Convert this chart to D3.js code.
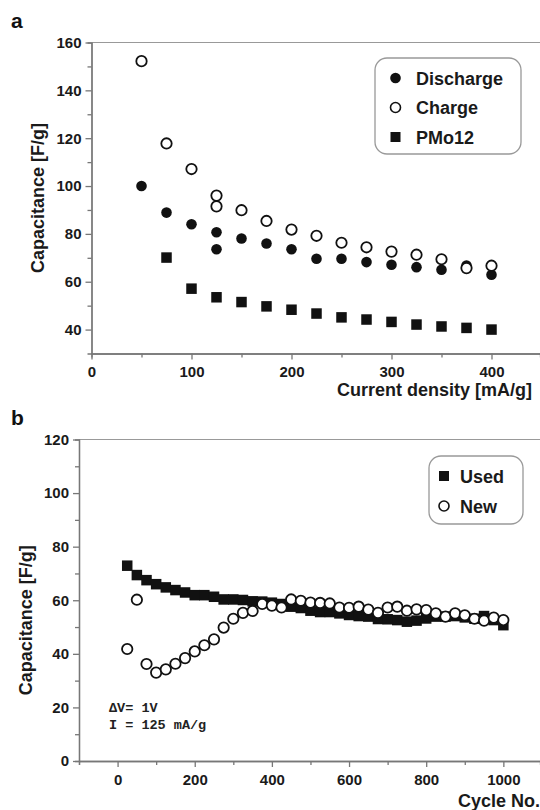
<!DOCTYPE html>
<html>
<head>
<meta charset="utf-8">
<script src="https://cdn.jsdelivr.net/npm/d3@7"></script>
<style>
  body { margin: 0; background: #fff; }
  svg { display: block; font-family: "Liberation Sans", Arial, sans-serif; }
  .tick text { font-weight: bold; font-size: 15px; fill: #1a1a1a; }
  .domain, .tick line { stroke: #777; stroke-width: 1.3; }
</style>
</head>
<body>
<script>
// panel a data
var currentA = [50, 75, 100, 125, 125, 150, 175, 200, 225, 250, 275, 300, 325, 350, 375, 400];
var discharge = [100, 88.9, 84.0, 80.7, 73.6, 78.1, 76.0, 73.6, 69.6, 69.6, 68.2, 67.1, 66.1, 65.0, 66.8, 62.9];
var charge = [152.2, 117.8, 107.1, 96.0, 91.5, 89.9, 85.4, 81.8, 79.2, 76.3, 74.4, 72.6, 71.3, 69.4, 65.7, 66.7];
var currentP = [75, 100, 125, 150, 175, 200, 225, 250, 275, 300, 325, 350, 375, 400];
var pmo12 = [70.1, 57.1, 53.5, 51.5, 49.7, 48.3, 46.7, 45.1, 44.2, 43.2, 42.1, 41.3, 40.7, 40.0];

// panel b data
var cycles = [25, 50, 75, 100, 125, 150, 175, 200, 225, 250, 275, 300, 325, 350, 375, 400, 425, 450, 475, 500,
              525, 550, 575, 600, 625, 650, 675, 700, 725, 750, 775, 800, 825, 850, 875, 900, 925, 950, 975, 1000];
var used = [72.9, 69.4, 67.5, 66.0, 64.8, 63.8, 62.9, 61.9, 61.9, 61.3, 60.3, 60.3, 60.1, 59.6, 59.5, 59.1, 58.6, 57.6, 57.1, 56.1,
            55.6, 55.6, 55.1, 54.5, 54.1, 53.9, 53.0, 52.9, 52.6, 52.0, 52.4, 53.2, 53.9, 53.9, 54.1, 53.6, 53.1, 54.1, 52.6, 50.7];
var fresh = [41.8, 60.2, 36.2, 33.0, 34.2, 36.3, 38.4, 40.9, 43.2, 45.4, 49.8, 53.1, 55.3, 56.0, 58.6, 58.0, 57.3, 60.3, 59.8, 59.1,
             59.0, 58.8, 57.3, 57.2, 57.6, 56.5, 55.3, 57.3, 57.6, 56.1, 56.6, 56.3, 55.1, 53.9, 55.1, 54.4, 53.1, 52.4, 53.5, 52.6];

var ticksAx = [0, 100, 200, 300, 400], minorAx = [50, 150, 250, 350, 450];
var ticksAy = [40, 60, 80, 100, 120, 140, 160], minorAy = [50, 70, 90, 110, 130, 150];
var ticksBx = [0, 200, 400, 600, 800, 1000], minorBx = [-100, 100, 300, 500, 700, 900];
var ticksBy = [0, 20, 40, 60, 80, 100, 120], minorBy = [10, 30, 50, 70, 90, 110];

var svg = d3.select('body').append('svg')
    .attr('width', 540)
    .attr('height', 810);

function panel(o) {
    var x = d3.scaleLinear().domain(o.xd).range([o.left, 540]);
    var y = d3.scaleLinear().domain(o.yd).range([o.bottom, o.top]);
    var g = svg.append('g');

    // top frame line
    g.append('line')
        .attr('x1', o.left).attr('x2', 540)
        .attr('y1', o.top).attr('y2', o.top)
        .attr('stroke', '#999').attr('stroke-width', 1.2);

    g.append('g').attr('transform', 'translate(0,' + o.bottom + ')')
        .call(d3.axisBottom(x).tickValues(o.minorX).tickSize(4).tickFormat(''));
    g.append('g').attr('transform', 'translate(0,' + o.bottom + ')')
        .call(d3.axisBottom(x).tickValues(o.ticksX).tickSize(6).tickPadding(5).tickSizeOuter(0).tickFormat(d3.format('d')))
        .selectAll('text').attr('dy', '0.85em');
    g.append('g').attr('transform', 'translate(' + o.left + ',0)')
        .call(d3.axisLeft(y).tickValues(o.minorY).tickSize(4).tickFormat(''));
    g.append('g').attr('transform', 'translate(' + o.left + ',0)')
        .call(d3.axisLeft(y).tickValues(o.ticksY).tickSize(6).tickPadding(4).tickSizeOuter(0));

    // axis titles
    g.append('text')
        .attr('transform', 'translate(' + o.ytx + ',' + ((o.top + o.bottom) / 2 + o.ytdy) + ') rotate(-90)')
        .attr('text-anchor', 'middle')
        .style('font-weight', 'bold').style('font-size', '18px').attr('fill', '#1a1a1a')
        .text('Capacitance [F/g]');
    g.append('text')
        .attr('x', o.xtx).attr('y', o.xty)
        .attr('text-anchor', 'end')
        .style('font-weight', 'bold').style('font-size', '18px').attr('fill', '#1a1a1a')
        .text(o.xtitle);
    // panel letter
    g.append('text')
        .attr('x', 11).attr('y', o.top - 15)
        .style('font-weight', 'bold').style('font-size', '21px').attr('fill', '#111')
        .text(o.letter);
    return { x: x, y: y, g: g };
}

function circles(p, xs, ys, filled, r) {
    p.g.append('g').selectAll('circle')
        .data(xs)
        .enter().append('circle')
        .attr('cx', function(d) { return p.x(d); })
        .attr('cy', function(d, i) { return p.y(ys[i]); })
        .attr('r', r)
        .attr('fill', filled ? '#111' : '#fff')
        .attr('stroke', '#111')
        .attr('stroke-width', filled ? 0 : 1.8);
}

function squares(p, xs, ys, s) {
    p.g.append('g').selectAll('rect')
        .data(xs)
        .enter().append('rect')
        .attr('x', function(d) { return p.x(d) - s / 2; })
        .attr('y', function(d, i) { return p.y(ys[i]) - s / 2; })
        .attr('width', s).attr('height', s)
        .attr('fill', '#111');
}

// ---------- panel a ----------
var pa = panel({
    xd: [0, 448.5], yd: [30, 160], left: 91.5, top: 42.5, bottom: 353.5,
    ticksX: ticksAx, minorX: minorAx, ticksY: ticksAy, minorY: minorAy,
    ytx: 44, ytdy: 0, xtx: 532, xty: 396, xtitle: 'Current density [mA/g]', letter: 'a'
});
squares(pa, currentP, pmo12, 10.5);
circles(pa, currentA, discharge, true, 5.3);
circles(pa, currentA, charge, false, 5.2);

// legend a
var la = pa.g.append('g');
la.append('rect').attr('x', 375).attr('y', 58).attr('width', 146).attr('height', 96)
    .attr('rx', 12).attr('fill', '#fff').attr('stroke', '#999').attr('stroke-width', 1.3);
var legA = ['Discharge', 'Charge', 'PMo12'];
legA.forEach(function(t, i) {
    var cy = 78 + i * 29.5;
    if (i === 0) la.append('circle').attr('cx', 395.5).attr('cy', cy).attr('r', 5.3).attr('fill', '#111');
    if (i === 1) la.append('circle').attr('cx', 395.5).attr('cy', cy).attr('r', 5).attr('fill', '#fff').attr('stroke', '#111').attr('stroke-width', 1.6);
    if (i === 2) la.append('rect').attr('x', 390.5).attr('y', cy - 5).attr('width', 10).attr('height', 10).attr('fill', '#111');
    la.append('text').attr('x', 416).attr('y', cy + 6.5)
        .style('font-weight', 'bold').style('font-size', '18px').attr('fill', '#1a1a1a').text(t);
});

// ---------- panel b ----------
var pb = panel({
    xd: [-100, 1095], yd: [0, 120], left: 79, top: 439.5, bottom: 761,
    ticksX: ticksBx, minorX: minorBx, ticksY: ticksBy, minorY: minorBy,
    ytx: 32, ytdy: 20, xtx: 540, xty: 807, xtitle: 'Cycle No.', letter: 'b'
});
squares(pb, cycles, used, 10.5);
circles(pb, cycles, fresh, false, 5.2);

var lb = pb.g.append('g');
lb.append('rect').attr('x', 429).attr('y', 456).attr('width', 94).attr('height', 68)
    .attr('rx', 12).attr('fill', '#fff').attr('stroke', '#999').attr('stroke-width', 1.3);
lb.append('rect').attr('x', 439).attr('y', 471).attr('width', 10).attr('height', 10).attr('fill', '#111');
lb.append('text').attr('x', 460).attr('y', 482.5)
    .style('font-weight', 'bold').style('font-size', '18px').attr('fill', '#1a1a1a').text('Used');
lb.append('circle').attr('cx', 444).attr('cy', 506).attr('r', 5).attr('fill', '#fff').attr('stroke', '#111').attr('stroke-width', 1.6);
lb.append('text').attr('x', 460).attr('y', 512.5)
    .style('font-weight', 'bold').style('font-size', '18px').attr('fill', '#1a1a1a').text('New');

// annotation
var note = pb.g.append('g').style('font-family', '"Liberation Mono", "DejaVu Sans Mono", monospace')
    .style('font-weight', 'bold').style('font-size', '13.5px').attr('fill', '#222');
note.append('text').attr('x', 109).attr('y', 712).text('\u0394V= 1V');
note.append('text').attr('x', 109).attr('y', 729).text('I = 125 mA/g');
</script>
</body>
</html>
